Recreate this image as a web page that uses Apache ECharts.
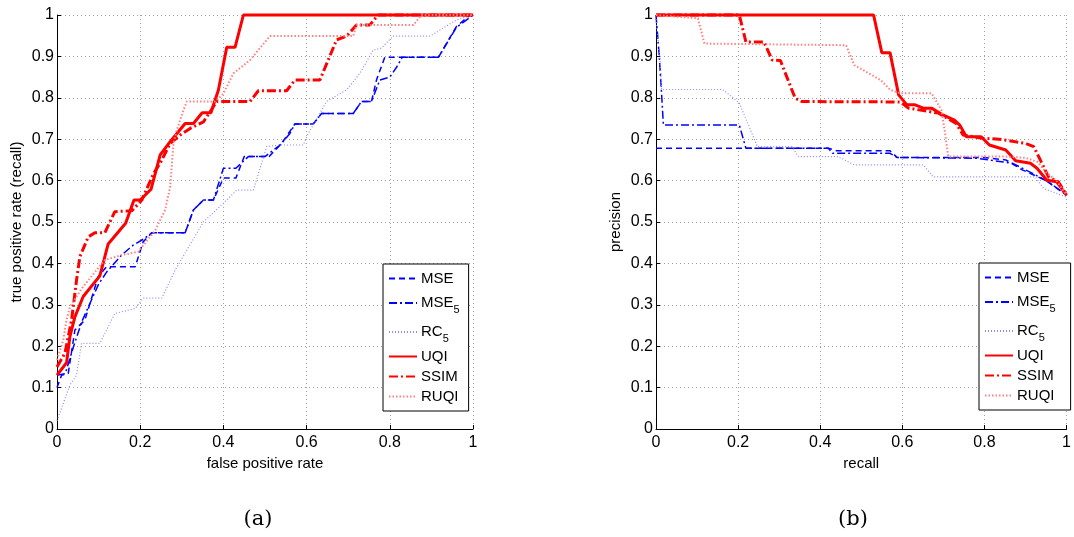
<!DOCTYPE html>
<html>
<head>
<meta charset="utf-8">
<script src="https://cdn.jsdelivr.net/npm/echarts@6/dist/echarts.min.js"></script>
<style>
html,body{margin:0;padding:0;background:#fff;}
#chart{width:1074px;height:537px;}
</style>
</head>
<body>
<div id="chart"></div>
<script>
// ---- data ----
const seriesNames = ['MSE', 'MSE5', 'RC5', 'UQI', 'SSIM', 'RUQI'];
const xTickLabels = ['0', '0.2', '0.4', '0.6', '0.8', '1'];
const panelLabels = ['(a)', '(b)'];
const axisTitles = {
  rocX: 'false positive rate', rocY: 'true positive rate (recall)',
  prX: 'recall', prY: 'precision'
};

// (a) ROC curves: [false positive rate, true positive rate]
const rocMSE = [[0,0.10],[0.011,0.13],[0.027,0.134],[0.043,0.239],[0.067,0.263],[0.099,0.368],[0.119,0.392],[0.188,0.392],[0.207,0.452],[0.228,0.474],[0.308,0.474],[0.328,0.529],[0.352,0.553],[0.376,0.553],[0.40,0.606],[0.43,0.606],[0.45,0.658],[0.51,0.658],[0.54,0.69],[0.572,0.737],[0.616,0.737],[0.636,0.762],[0.712,0.762],[0.732,0.791],[0.756,0.791],[0.768,0.843],[0.788,0.898],[0.917,0.898],[0.96,0.972],[0.993,1],[1,1]];
const rocMSE5 = [[0,0.13],[0.02,0.134],[0.04,0.20],[0.06,0.26],[0.10,0.35],[0.12,0.38],[0.155,0.42],[0.183,0.444],[0.21,0.46],[0.228,0.474],[0.308,0.474],[0.328,0.529],[0.352,0.553],[0.376,0.553],[0.40,0.63],[0.43,0.63],[0.46,0.658],[0.50,0.658],[0.536,0.686],[0.56,0.714],[0.572,0.737],[0.616,0.737],[0.636,0.762],[0.712,0.762],[0.732,0.791],[0.756,0.791],[0.776,0.843],[0.80,0.85],[0.817,0.875],[0.83,0.898],[0.917,0.898],[0.96,0.97],[1,1]];
const rocRC5 = [[0,0.02],[0.031,0.106],[0.047,0.13],[0.059,0.207],[0.103,0.207],[0.139,0.279],[0.188,0.291],[0.207,0.316],[0.252,0.316],[0.284,0.384],[0.312,0.432],[0.352,0.50],[0.408,0.553],[0.432,0.577],[0.472,0.577],[0.504,0.682],[0.536,0.686],[0.592,0.686],[0.604,0.714],[0.648,0.791],[0.696,0.819],[0.728,0.859],[0.76,0.915],[0.78,0.92],[0.808,0.949],[0.897,0.949],[0.96,0.988],[1,1]];
const rocUQI = [[0,0.13],[0.023,0.16],[0.031,0.223],[0.043,0.271],[0.063,0.32],[0.103,0.37],[0.123,0.447],[0.165,0.497],[0.185,0.553],[0.20,0.553],[0.226,0.579],[0.248,0.662],[0.272,0.694],[0.308,0.738],[0.328,0.738],[0.349,0.764],[0.37,0.764],[0.388,0.819],[0.408,0.922],[0.428,0.922],[0.448,1],[1,1]];
const rocSSIM = [[0,0.15],[0.019,0.183],[0.035,0.263],[0.047,0.36],[0.055,0.416],[0.075,0.464],[0.091,0.474],[0.115,0.474],[0.139,0.525],[0.18,0.527],[0.204,0.553],[0.232,0.617],[0.248,0.642],[0.272,0.69],[0.296,0.71],[0.32,0.726],[0.352,0.742],[0.384,0.791],[0.464,0.791],[0.484,0.817],[0.552,0.817],[0.572,0.843],[0.632,0.843],[0.672,0.94],[0.696,0.949],[0.72,0.976],[0.752,0.976],[0.772,1],[1,1]];
const rocRUQI = [[0,0.167],[0.015,0.215],[0.023,0.263],[0.031,0.295],[0.06,0.34],[0.10,0.39],[0.115,0.408],[0.155,0.42],[0.195,0.428],[0.236,0.48],[0.26,0.529],[0.272,0.585],[0.28,0.69],[0.288,0.722],[0.304,0.77],[0.312,0.791],[0.38,0.791],[0.40,0.81],[0.424,0.859],[0.464,0.891],[0.496,0.93],[0.512,0.949],[0.712,0.949],[0.72,0.976],[0.857,0.976],[0.876,1],[1,1]];

// (b) precision-recall curves: [recall, precision]
const prMSE = [[0,0.678],[0.42,0.678],[0.44,0.672],[0.57,0.672],[0.587,0.656],[0.796,0.656],[0.852,0.65],[0.892,0.626],[0.948,0.601],[1,0.565]];
const prMSE5 = [[0,1],[0.008,0.90],[0.013,0.82],[0.018,0.734],[0.203,0.734],[0.219,0.678],[0.42,0.678],[0.43,0.666],[0.57,0.666],[0.587,0.656],[0.78,0.654],[0.868,0.642],[0.916,0.618],[0.956,0.597],[1,0.565]];
const prRC5 = [[0,0.99],[0.01,0.887],[0.014,0.82],[0.163,0.82],[0.203,0.787],[0.247,0.682],[0.331,0.682],[0.347,0.658],[0.443,0.658],[0.483,0.638],[0.651,0.638],[0.675,0.609],[0.924,0.609],[0.944,0.581],[1,0.56]];
const prUQI = [[0,1],[0.53,1],[0.55,0.909],[0.57,0.909],[0.591,0.807],[0.611,0.783],[0.631,0.783],[0.651,0.775],[0.671,0.775],[0.70,0.758],[0.727,0.746],[0.74,0.734],[0.756,0.706],[0.792,0.706],[0.812,0.686],[0.852,0.674],[0.876,0.648],[0.912,0.642],[0.928,0.63],[0.952,0.601],[0.976,0.597],[1,0.565]];
const prSSIM = [[0,1],[0.203,1],[0.219,0.935],[0.263,0.935],[0.283,0.891],[0.303,0.89],[0.339,0.799],[0.355,0.791],[0.595,0.79],[0.615,0.775],[0.688,0.763],[0.731,0.738],[0.748,0.71],[0.796,0.702],[0.836,0.70],[0.90,0.69],[0.92,0.682],[0.94,0.642],[0.956,0.609],[0.98,0.597],[1,0.565]];
const prRUQI = [[0,1],[0.102,0.992],[0.118,0.931],[0.463,0.927],[0.483,0.879],[0.515,0.861],[0.547,0.843],[0.571,0.819],[0.595,0.811],[0.671,0.811],[0.695,0.771],[0.703,0.722],[0.712,0.658],[0.852,0.658],[0.90,0.655],[0.93,0.645],[0.95,0.62],[0.975,0.60],[1,0.565]];

// ---- styles ----
const FONT = 'Liberation Sans, Arial, sans-serif';
const styles = {
  MSE:  {color:'#0000ff', width:1.5, type:[6,4]},
  MSE5: {color:'#0000ff', width:1.5, type:[8,3,2,3]},
  RC5:  {color:'#8c8cff', width:1.2, type:[1,2]},
  UQI:  {color:'#ff0000', width:3, type:'solid'},
  SSIM: {color:'#ff0000', width:3, type:[9,3,2,3]},
  RUQI: {color:'#ff8080', width:2, type:[1.5,2]}
};
const rocData = {MSE:rocMSE, MSE5:rocMSE5, RC5:rocRC5, UQI:rocUQI, SSIM:rocSSIM, RUQI:rocRUQI};
const prData = {MSE:prMSE, MSE5:prMSE5, RC5:prRC5, UQI:prUQI, SSIM:prSSIM, RUQI:prRUQI};

function xAxisCfg(gridIndex, name){
  return {
    type:'value', gridIndex, min:0, max:1, interval:0.2,
    name, nameLocation:'middle', nameGap:22,
    nameTextStyle:{fontFamily:FONT, fontSize:15, color:'#000'},
    axisLine:{show:true, lineStyle:{color:'#000', width:1}},
    axisTick:{show:true, inside:true, length:4, lineStyle:{color:'#000'}},
    axisLabel:{fontFamily:FONT, fontSize:16, color:'#000', margin:6,
      formatter:(v)=>xTickLabels[Math.round(v/0.2)]},
    splitLine:{show:true, lineStyle:{color:'#a0a0a0', width:1, type:[1,3]}}
  };
}
function yAxisCfg(gridIndex, name){
  return {
    type:'value', gridIndex, min:0, max:1, interval:0.1,
    name, nameLocation:'middle', nameGap:33,
    nameTextStyle:{fontFamily:FONT, fontSize:15, color:'#000'},
    axisLine:{show:true, lineStyle:{color:'#000', width:1}},
    axisTick:{show:true, inside:true, length:4, lineStyle:{color:'#000'}},
    axisLabel:{fontFamily:FONT, fontSize:16, color:'#000', margin:3,
      formatter:(v)=>String(Math.round(v*10)/10)},
    splitLine:{show:true, lineStyle:{color:'#a0a0a0', width:1, type:[1,3]}}
  };
}
function legendCfg(left, top, padRight){
  return {
    show:true, orient:'vertical', left, top,
    data:seriesNames,
    selectedMode:false,
    backgroundColor:'#fff', borderColor:'#000', borderWidth:1,
    padding:[7,padRight,7,5], itemGap:5, itemWidth:28, itemHeight:12,
    itemStyle:{opacity:0, borderWidth:0},
    textStyle:{fontFamily:FONT, fontSize:15, color:'#000', padding:[0,0,0,-1],
      rich:{s:{fontFamily:FONT, fontSize:11, color:'#000', lineHeight:12, padding:[13,0,0,0]}}},
    formatter:(n)=> n.endsWith('5') ? n.slice(0,-1)+'{s|5}' : n
  };
}

const series = [];
[[rocData,0],[prData,1]].forEach(([dset, gi])=>{
  seriesNames.forEach(n=>{
    const st = styles[n];
    series.push({
      name:n, type:'line', xAxisIndex:gi, yAxisIndex:gi,
      data:dset[n], showSymbol:false, symbol:'none', clip:false,
      lineStyle:{color:st.color, width:st.width, type:st.type},
      itemStyle:{color:st.color},
      emphasis:{disabled:true}, animation:false
    });
  });
});

const chart = echarts.init(document.getElementById('chart'), null, {renderer:'canvas'});
chart.setOption({
  animation:false,
  backgroundColor:'#fff',
  grid:[
    {left:57, top:15, width:416, height:414, containLabel:false},
    {left:656, top:15, width:416, height:414, containLabel:false}
  ],
  xAxis:[xAxisCfg(0, axisTitles.rocX), xAxisCfg(1, axisTitles.prX)],
  yAxis:[yAxisCfg(0, axisTitles.rocY), yAxisCfg(1, axisTitles.prY)],
  legend:[legendCfg(383, 264, 9), legendCfg(979, 263, 15)],
  graphic:[
    {type:'text', x:258, y:520, style:{text:panelLabels[0], font:'21px "DejaVu Serif", serif', fill:'#000', align:'center', verticalAlign:'middle'}},
    {type:'text', x:853, y:520, style:{text:panelLabels[1], font:'21px "DejaVu Serif", serif', fill:'#000', align:'center', verticalAlign:'middle'}}
  ],
  series
});
</script>
</body>
</html>
